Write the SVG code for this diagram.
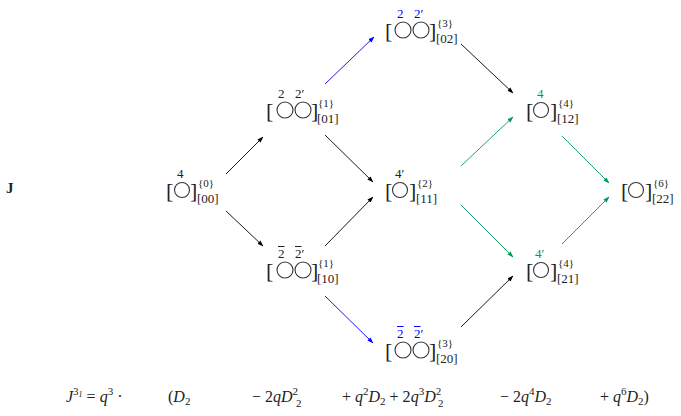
<svg xmlns="http://www.w3.org/2000/svg" width="681" height="416" viewBox="0 0 681 416">
<style>
text{font-family:"Liberation Serif","DejaVu Serif",serif;fill:#222}
.br{font-size:22px}
.lb{font-size:13px}
.sm{font-size:11px}
.c{fill:none;stroke:#333;stroke-width:1.1}
.blue{fill:#0000ff}
.green{fill:#00995a}
.e{stroke-width:0.9;fill:none}
.bar{stroke-width:1}
.i{font-style:italic}
</style>
<defs>
<marker id="ak" viewBox="0 0 10 10" refX="9" refY="5" markerWidth="7" markerHeight="7" orient="auto"><path d="M0,1.5L10,5L0,8.5z" fill="#000"/></marker>
<marker id="ab" viewBox="0 0 10 10" refX="9" refY="5" markerWidth="7" markerHeight="7" orient="auto"><path d="M0,1.5L10,5L0,8.5z" fill="#0000ff"/></marker>
<marker id="ag" viewBox="0 0 10 10" refX="9" refY="5" markerWidth="7" markerHeight="7" orient="auto"><path d="M0,1.5L10,5L0,8.5z" fill="#00995a"/></marker>
</defs>
<text x="6" y="193" font-weight="bold" font-size="15">J</text>
<g id="n00"><text class="lb" x="177" y="178">4</text><text class="br" x="166" y="198">[</text><circle class="c" cx="182" cy="190" r="7.5"/><text class="br" x="190" y="198">]</text><text class="sm" x="198" y="187">{0}</text><text class="lb" x="197" y="203">[00]</text></g>
<g id="n01"><text class="lb" x="278" y="98">2</text><text class="lb" x="295" y="98">2′</text><text class="br" x="266" y="118">[</text><circle class="c" cx="285" cy="110" r="8"/><circle class="c" cx="303" cy="110" r="8"/><text class="br" x="311" y="118">]</text><text class="sm" x="318" y="107">{1}</text><text class="lb" x="317" y="123">[01]</text></g>
<g id="n02"><text class="lb blue" x="397" y="18">2</text><text class="lb blue" x="414" y="18">2′</text><text class="br" x="385" y="38">[</text><circle class="c" cx="403" cy="30" r="8"/><circle class="c" cx="421" cy="30" r="8"/><text class="br" x="429" y="38">]</text><text class="sm" x="437" y="27">{3}</text><text class="lb" x="436" y="43">[02]</text></g>
<g id="n11"><text class="lb" x="395" y="178">4′</text><text class="br" x="385" y="198">[</text><circle class="c" cx="400" cy="190" r="7.5"/><text class="br" x="409" y="198">]</text><text class="sm" x="417" y="187">{2}</text><text class="lb" x="416" y="203">[11]</text></g>
<g id="n10"><text class="lb" x="278" y="258">2</text><text class="lb" x="295" y="258">2′</text><path class="bar" stroke="#222" d="M278,246.5h6.5M295,246.5h6.5"/><text class="br" x="266" y="278">[</text><circle class="c" cx="285" cy="270" r="8"/><circle class="c" cx="303" cy="270" r="8"/><text class="br" x="311" y="278">]</text><text class="sm" x="318" y="267">{1}</text><text class="lb" x="317" y="283">[10]</text></g>
<g id="n20"><text class="lb blue" x="397" y="338">2</text><text class="lb blue" x="414" y="338">2′</text><path class="bar" stroke="#0000ff" d="M397,326.5h6.5M414,326.5h6.5"/><text class="br" x="385" y="358">[</text><circle class="c" cx="403" cy="350" r="8"/><circle class="c" cx="421" cy="350" r="8"/><text class="br" x="429" y="358">]</text><text class="sm" x="437" y="347">{3}</text><text class="lb" x="436" y="363">[20]</text></g>
<g id="n12"><text class="lb green" x="537" y="98">4</text><text class="br" x="526" y="118">[</text><circle class="c" cx="541" cy="110" r="7.5"/><text class="br" x="550" y="118">]</text><text class="sm" x="558" y="107">{4}</text><text class="lb" x="557" y="123">[12]</text></g>
<g id="n21"><text class="lb green" x="535" y="258">4′</text><text class="br" x="526" y="278">[</text><circle class="c" cx="541" cy="270" r="7.5"/><text class="br" x="550" y="278">]</text><text class="sm" x="558" y="267">{4}</text><text class="lb" x="557" y="283">[21]</text></g>
<g id="n22"><text class="br" x="621" y="198">[</text><circle class="c" cx="636" cy="190" r="7.5"/><text class="br" x="645" y="198">]</text><text class="sm" x="653" y="187">{6}</text><text class="lb" x="652" y="203">[22]</text></g>
<g id="edges">
<path class="e" stroke="#000" marker-end="url(#ak)" d="M226,174L263,137"/>
<path class="e" stroke="#000" marker-end="url(#ak)" d="M226,211L263,246"/>
<path class="e" stroke="#0000ff" marker-end="url(#ab)" d="M325,84L374,37"/>
<path class="e" stroke="#000" marker-end="url(#ak)" d="M325,135L373,182"/>
<path class="e" stroke="#000" marker-end="url(#ak)" d="M325,246L373,197"/>
<path class="e" stroke="#0000ff" marker-end="url(#ab)" d="M325,296L373,343"/>
<path class="e" stroke="#000" marker-end="url(#ak)" d="M461,44L513,93"/>
<path class="e" stroke="#00995a" marker-end="url(#ag)" d="M461,166L513,117"/>
<path class="e" stroke="#00995a" marker-end="url(#ag)" d="M461,205L513,257"/>
<path class="e" stroke="#000" marker-end="url(#ak)" d="M461,327L513,276"/>
<path class="e" stroke="#00995a" marker-end="url(#ag)" d="M562,136L609,183"/>
<path class="e" stroke="#00995a" marker-end="url(#ag)" d="M562,244L609,197"/>
</g>
<g id="formula" font-size="16">
<text x="66" y="402"><tspan class="i">J</tspan><tspan font-size="11" dy="-7">3</tspan><tspan font-size="8" dy="2" class="i">1</tspan><tspan dy="5"> = </tspan><tspan class="i">q</tspan><tspan font-size="11" dy="-7">3</tspan><tspan dy="7"> ·</tspan></text>
<text x="168" y="402">(<tspan class="i">D</tspan><tspan font-size="11" dy="3">2</tspan></text>
<text x="252" y="402">− 2<tspan class="i">qD</tspan><tspan font-size="11" dy="-7">2</tspan></text>
<text x="296" y="407" font-size="11">2</text>
<text x="342" y="402">+ <tspan class="i">q</tspan><tspan font-size="11" dy="-7">2</tspan><tspan class="i" dy="7">D</tspan><tspan font-size="11" dy="3">2</tspan><tspan dy="-3"> + 2</tspan><tspan class="i">q</tspan><tspan font-size="11" dy="-7">3</tspan><tspan class="i" dy="7">D</tspan><tspan font-size="11" dy="-7">2</tspan></text>
<text x="438" y="407" font-size="11">2</text>
<text x="500" y="402">− 2<tspan class="i">q</tspan><tspan font-size="11" dy="-7">4</tspan><tspan class="i" dy="7">D</tspan><tspan font-size="11" dy="3">2</tspan></text>
<text x="600" y="402">+ <tspan class="i">q</tspan><tspan font-size="11" dy="-7">6</tspan><tspan class="i" dy="7">D</tspan><tspan font-size="11" dy="3">2</tspan><tspan dy="-3">)</tspan></text>
</g>
</svg>
